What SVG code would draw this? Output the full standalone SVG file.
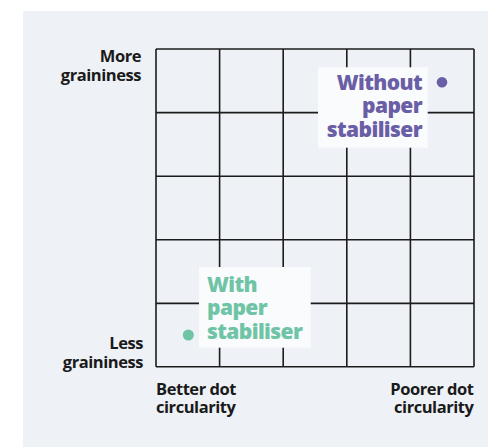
<svg xmlns="http://www.w3.org/2000/svg" width="488" height="447" viewBox="0 0 488 447">
<style>
.grid line{stroke:#1c1c1c;stroke-width:1.6;}
.axis{font-family:"Open Sans","Liberation Sans",sans-serif;font-weight:700;font-size:16.5px;fill:#1a1a1a;letter-spacing:-0.45px;}
.lbl{font-family:"Open Sans","Liberation Sans",sans-serif;font-weight:800;font-size:21px;letter-spacing:-0.6px;}
.box{fill:#fafbfc;}
</style>
<rect x="23" y="11" width="465" height="436" fill="#eef1f6"/>
<g id="grid" class="grid">
<line x1="156" y1="49" x2="474" y2="49"/>
<line x1="156" y1="112.6" x2="474" y2="112.6"/>
<line x1="156" y1="176.2" x2="474" y2="176.2"/>
<line x1="156" y1="239.8" x2="474" y2="239.8"/>
<line x1="156" y1="303.4" x2="474" y2="303.4"/>
<line x1="156" y1="366.8" x2="474" y2="366.8"/>
<line x1="156" y1="49" x2="156" y2="366.8"/>
<line x1="219.6" y1="49" x2="219.6" y2="366.8"/>
<line x1="283.2" y1="49" x2="283.2" y2="366.8"/>
<line x1="346.8" y1="49" x2="346.8" y2="366.8"/>
<line x1="410.4" y1="49" x2="410.4" y2="366.8"/>
<line x1="474" y1="49" x2="474" y2="366.8"/>
</g>
<g id="axis-labels">
<text class="axis" text-anchor="end" x="141" y="62">More</text>
<text class="axis" text-anchor="end" x="141" y="80.5">graininess</text>
<text class="axis" text-anchor="end" x="143" y="349">Less</text>
<text class="axis" text-anchor="end" x="143" y="367.5">graininess</text>
<text class="axis" x="156" y="394.5">Better dot</text>
<text class="axis" x="156" y="413">circularity</text>
<text class="axis" text-anchor="end" x="473.5" y="394.5">Poorer dot</text>
<text class="axis" text-anchor="end" x="473.5" y="413">circularity</text>
</g>
<g id="without-stabiliser">
<rect class="box" x="318" y="67.3" width="109.7" height="80.4"/>
<text class="lbl" fill="#6a5ea6" text-anchor="end" x="422" y="90">Without</text>
<text class="lbl" fill="#6a5ea6" text-anchor="end" x="422" y="113.3">paper</text>
<text class="lbl" fill="#6a5ea6" text-anchor="end" x="422" y="136.7">stabiliser</text>
<circle cx="442" cy="82.3" r="5.3" fill="#6a5ea6"/>
</g>
<g id="with-stabiliser">
<rect class="box" x="199" y="267" width="111.7" height="80.7"/>
<text class="lbl" fill="#6fc4a6" x="207" y="292">With</text>
<text class="lbl" fill="#6fc4a6" x="207" y="315.3">paper</text>
<text class="lbl" fill="#6fc4a6" x="207" y="338.7">stabiliser</text>
<circle cx="188.3" cy="335" r="5.5" fill="#6fc4a6"/>
</g>
</svg>
